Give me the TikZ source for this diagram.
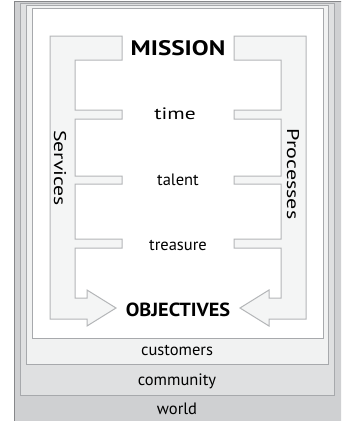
\documentclass[tikz,border=0pt]{standalone}
\usepackage{fontspec}
\setmainfont{PT Sans}
\definecolor{mundo}{HTML}{CFD0D2}
\definecolor{comunidad}{HTML}{DFE0E1}
\definecolor{clientes}{HTML}{F1F2F2}
\definecolor{borde}{HTML}{A7A9AC}
\definecolor{corchete}{HTML}{F4F5F5}
\tikzset{
	capa/.style={draw=borde,line width=1pt},
	corch/.style={fill=corchete,draw=borde!85,line width=1pt,line join=miter},
	rotulo/.style={font=\fontsize{16.5}{16.5}\selectfont,inner sep=0pt},
	lado/.style={font=\fontsize{17}{17}\selectfont,inner sep=0pt,rotate=-90},
	titulo/.style={font=\fontsize{21}{21}\selectfont\bfseries,inner sep=0pt}
}
\newcommand{\corchetepath}{(50,36) -- (122,36) -- (122,60) -- (75,60) -- (75,110) -- (122,110) -- (122,119) -- (75,119) -- (75,176) -- (122,176) -- (122,184) -- (75,184) -- (75,239) -- (122,239) -- (122,248) -- (75,248) -- (75,298) -- (87,298) -- (87,290) -- (116,308) -- (87,326) -- (87,319) -- (50,319) -- cycle}
\newcommand{\ancho}[2]{\scalebox{#1}[1]{#2}}
\begin{document}
\begin{tikzpicture}[x=1pt,y=-1pt]
			\clip (0,0) rectangle (341,421);
			% capas
			\fill[mundo] (14,1) rectangle (345,425);
			\draw[borde!80!black,line width=1pt] (14,425) -- (14,1) -- (345,1);
			\draw[capa,fill=comunidad] (20,3) rectangle (334,395);
			\draw[capa,fill=clientes] (26,5) rectangle (328,364);
			\draw[capa,fill=white] (32,8) rectangle (323,338);
			\node[rotulo] (clientes) at (177,350) {customers};
			\node[rotulo] (comunidad) at (177,381) {community};
			\node[rotulo] (mundo) at (177,409) {world};

			% corchetes
			\draw[corch] \corchetepath;
			\begin{scope}[shift={(356,0)},xscale=-1]
			\draw[corch] \corchetepath;
			\end{scope}
			\node[lado] (servicios) at (60,168) {\ancho{1.28}{Services}};
			\node[lado] (procesos) at (293,174) {\ancho{1.3}{Processes}};

			% recursos
			\node[titulo] (mision) at (178,48) {\ancho{1.2}{MISSION}};
			\node[rotulo] (tiempo) at (175,114) {\ancho{1.3}{time}};
			\node[rotulo] (talento) at (178,180) {talent};
			\node[rotulo] (tesoro) at (178,245) {treasure};
			\node[titulo,font=\fontsize{19}{19}\selectfont\bfseries] (objetivos) at (178,310) {\ancho{1.07}{OBJECTIVES}};
		    \end{tikzpicture}
\end{document}
